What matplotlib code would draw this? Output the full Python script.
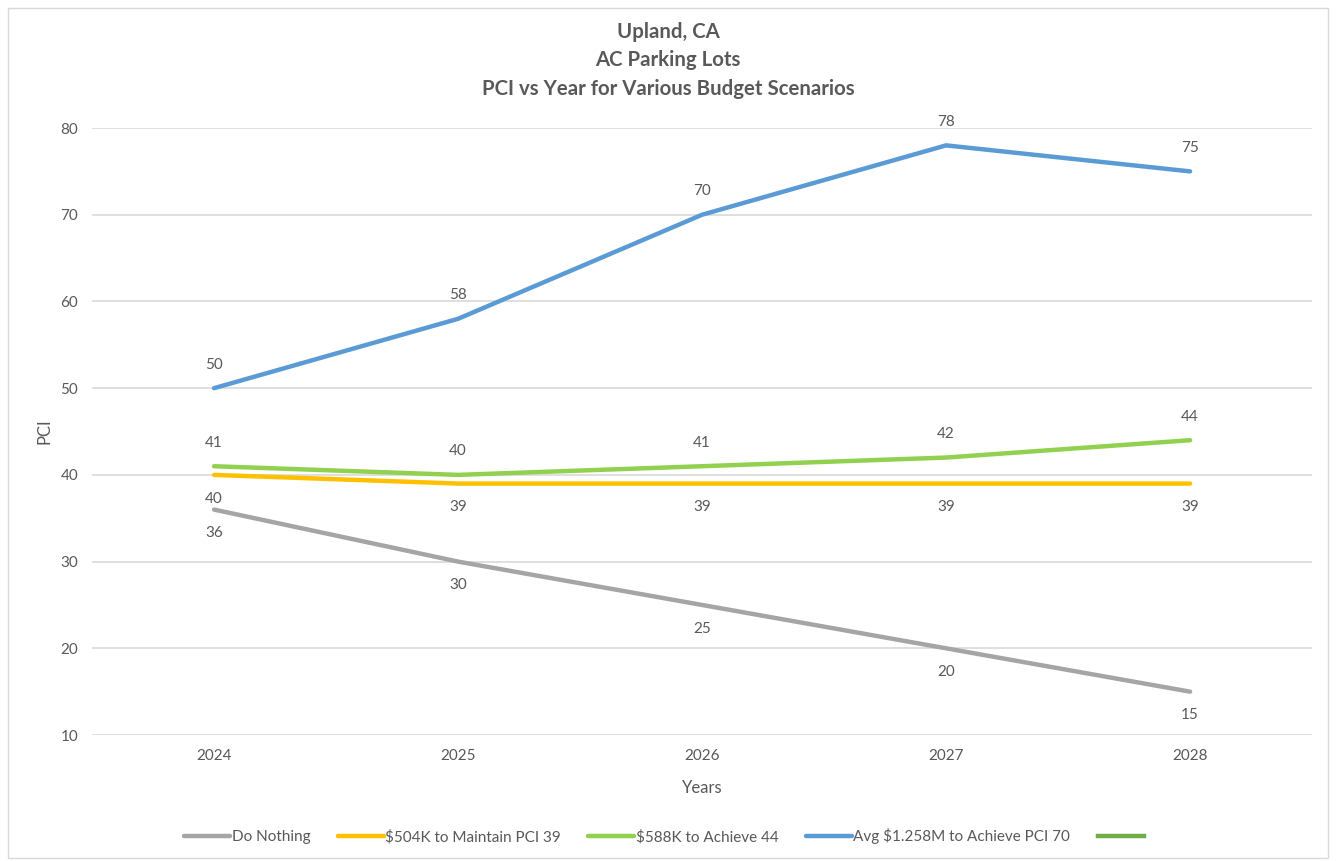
import matplotlib
matplotlib.use("Agg")
import matplotlib.pyplot as plt
from matplotlib.patches import Rectangle

plt.rcParams['font.family'] = ['Lato', 'DejaVu Sans']

years = ["2024", "2025", "2026", "2027", "2028"]
do_nothing = [36, 30, 25, 20, 15]
maintain_39 = [40, 39, 39, 39, 39]
achieve_44 = [41, 40, 41, 42, 44]
achieve_70 = [50, 58, 70, 78, 75]

series_names = ["Do Nothing", "$504K to Maintain PCI 39",
                "$588K to Achieve 44", "Avg $1.258M to Achieve PCI 70"]
colors = ["#A5A5A5", "#FFC000", "#92D050", "#5B9BD5"]
label_side = [-1, -1, 1, 1]  # below / above the point

text_col = "#595959"

fig = plt.figure(figsize=(13.36, 8.61), dpi=100)
ax = fig.add_axes([0.0689, 0.1463, 0.9132, 0.705])

x = list(range(len(years)))
all_series = [do_nothing, maintain_39, achieve_44, achieve_70]
for vals, name, col, side in zip(all_series, series_names, colors, label_side):
    ax.plot(x, vals, color=col, lw=3.2, solid_capstyle="round", label=name, zorder=3)
    for xi, v in zip(x, vals):
        ax.annotate(str(v), (xi, v), xytext=(0, 17 * side), textcoords="offset points",
                    ha="center", va="center", fontsize=11, color=text_col)

# empty fifth legend entry
ax.plot([], [], color="#70AD47", lw=3.2, label=" ")

ax.set_xlim(-0.5, len(years) - 0.5)
ax.set_ylim(10, 80)
ax.set_yticks(range(10, 81, 10))
ax.set_xticks(x)
ax.set_xticklabels(years)
ax.tick_params(axis="both", length=0, labelsize=11, labelcolor=text_col, pad=10)
ax.grid(axis="y", color="#D9D9D9", lw=1.2, zorder=0)
for s in ax.spines.values():
    s.set_visible(False)

ax.set_xlabel("Years", fontsize=12, color=text_col, labelpad=12)
ax.set_ylabel("PCI", fontsize=12, color=text_col, labelpad=6)

fig.text(0.5, 0.975, "Upland, CA\nAC Parking Lots\nPCI vs Year for Various Budget Scenarios",
         ha="center", va="top", fontsize=14.7, fontweight="bold", color=text_col,
         linespacing=1.55)

leg = fig.legend(loc="center", bbox_to_anchor=(0.499, 0.029), ncol=5, frameon=False,
                 fontsize=11, handlelength=3.0, columnspacing=1.8, handletextpad=0.1)
for t in leg.get_texts():
    t.set_color(text_col)

fig.add_artist(Rectangle((0.006, 0.004), 0.988, 0.987, transform=fig.transFigure,
                         fill=False, edgecolor="#D9D9D9", lw=1))

fig.savefig("out.png", dpi=100)
